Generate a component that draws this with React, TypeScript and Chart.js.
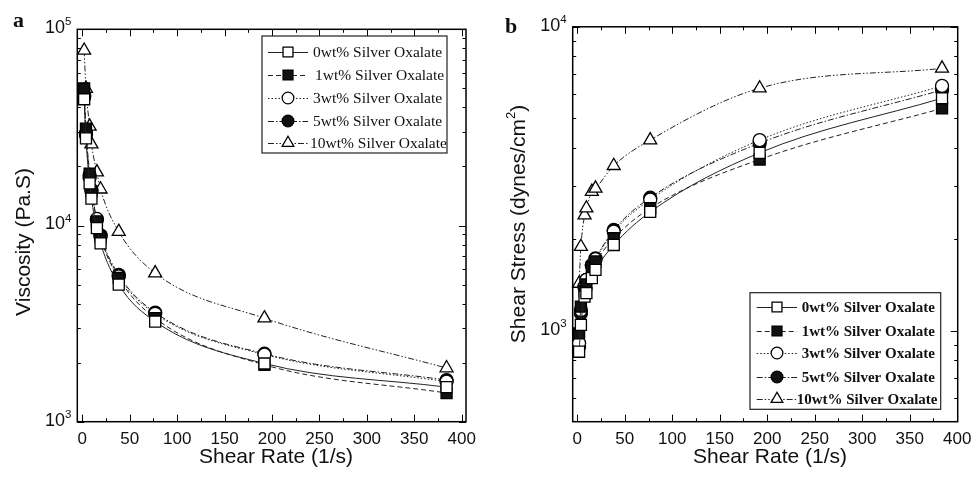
import React, { useEffect, useRef } from "react";
import { Chart, registerables } from "chart.js";

Chart.register(...registerables);

// ---------- data ----------
const shearRate = [1.92, 3.84, 7.68, 9.6, 15.36, 19.2, 38.4, 76.8, 192, 384];
const seriesLabels = [
  "0wt% Silver Oxalate",
  "1wt% Silver Oxalate",
  "3wt% Silver Oxalate",
  "5wt% Silver Oxalate",
  "10wt% Silver Oxalate",
];

// Panel a: viscosity (Pa.S)
const viscosity0 = [44000, 27800, 16400, 13700, 9700, 8100, 5000, 3240, 1980, 1500];
const viscosity1 = [50000, 31200, 18400, 14900, 10500, 8700, 5400, 3370, 1950, 1400];
const viscosity3 = [46000, 29500, 17500, 15000, 10800, 8800, 5500, 3550, 2200, 1600];
const viscosity5 = [45000, 28900, 18100, 15200, 10700, 8900, 5600, 3600, 2220, 1630];
const viscosity10 = [78000, 49900, 32000, 26000, 18700, 15300, 9300, 5720, 3370, 1877];

// Panel b: shear stress (dynes/cm^2)
const stress0 = [853, 1045, 1295, 1330, 1490, 1585, 1915, 2460, 3850, 5820];
const stress1 = [980, 1200, 1350, 1420, 1620, 1690, 2015, 2530, 3660, 5390];
const stress3 = [910, 1170, 1390, 1470, 1640, 1720, 2120, 2700, 4240, 6390];
const stress5 = [886, 1140, 1397, 1470, 1645, 1730, 2145, 2740, 4140, 6200];
const stress10 = [1430, 1890, 2400, 2530, 2870, 2940, 3490, 4240, 6280, 7300];

const xMajorTicks = [0, 50, 100, 150, 200, 250, 300, 350, 400];
const xMinorTicks = [25, 75, 125, 175, 225, 275, 325, 375];
const viscosityDecades = [1000, 10000, 100000];
const stressDecades = [1000, 10000];

// ---------- styles ----------
const seriesStyles = [
  { pointStyle: "rect", fill: "#ffffff", dash: [] as number[], radius: 7.8 },
  { pointStyle: "rect", fill: "#111111", dash: [5, 3], radius: 7.8 },
  { pointStyle: "circle", fill: "#ffffff", dash: [1.5, 2], radius: 6.5 },
  { pointStyle: "circle", fill: "#111111", dash: [6, 2, 1.5, 2], radius: 6.5 },
  { pointStyle: "triangle", fill: "#ffffff", dash: [6, 2, 1.5, 2, 1.5, 2], radius: 7.5 },
];

const SANS = '"Liberation Sans", Arial, Helvetica, sans-serif';
const SERIF = '"Liberation Serif", "Times New Roman", serif';

function drawMarker(ctx: CanvasRenderingContext2D, style: string, x: number, y: number, r: number, fill: string) {
  ctx.save();
  ctx.setLineDash([]);
  ctx.fillStyle = fill;
  ctx.strokeStyle = "#000";
  ctx.lineWidth = 1.3;
  ctx.beginPath();
  if (style === "rect") {
    const s = r * Math.SQRT1_2;
    ctx.rect(x - s, y - s, 2 * s, 2 * s);
  } else if (style === "circle") {
    ctx.arc(x, y, r, 0, Math.PI * 2);
  } else {
    let rad = 0;
    const T = (2 * Math.PI) / 3;
    ctx.moveTo(x + Math.sin(rad) * r, y - Math.cos(rad) * r);
    rad += T;
    ctx.lineTo(x + Math.sin(rad) * r, y - Math.cos(rad) * r);
    rad += T;
    ctx.lineTo(x + Math.sin(rad) * r, y - Math.cos(rad) * r);
    ctx.closePath();
  }
  ctx.fill();
  ctx.stroke();
  ctx.restore();
}

type Panel = {
  offsetX: number;
  width: number;
  series: number[][];
  xMin: number;
  xMax: number;
  yMin: number;
  yMax: number;
  decades: number[];
  padding: { left: number; right: number; top: number; bottom: number };
  letter: string;
  letterPos: [number, number];
  yTitle: string;
  yTitleSup: string;
  yTitleTail: string;
  yTitlePos: [number, number];
  xTitlePos: [number, number];
  legend: {
    box: [number, number, number, number];
    rows: number[];
    lineX: [number, number];
    markerX: number;
    textX: number;
    textOffsets: number[];
    font: string;
  };
};

function makeDecor(p: Panel) {
  return {
    id: "decor",
    beforeDatasetsDraw(chart: any) {
      const ctx: CanvasRenderingContext2D = chart.ctx;
      const a = chart.chartArea;
      const xs = chart.scales.x;
      const ys = chart.scales.y;
      ctx.save();
      // frame
      ctx.strokeStyle = "#000";
      ctx.lineWidth = 1.5;
      ctx.strokeRect(a.left, a.top, a.right - a.left, a.bottom - a.top);
      // x ticks
      ctx.lineWidth = 1;
      ctx.beginPath();
      const xt = (v: number, len: number) => {
        const px = Math.round(xs.getPixelForValue(v)) + 0.5;
        ctx.moveTo(px, a.bottom);
        ctx.lineTo(px, a.bottom - len);
        ctx.moveTo(px, a.top);
        ctx.lineTo(px, a.top + len);
      };
      xMajorTicks.forEach((v) => xt(v, 7));
      xMinorTicks.forEach((v) => xt(v, 3.5));
      // y ticks
      const yt = (v: number, len: number) => {
        const py = Math.round(ys.getPixelForValue(v)) + 0.5;
        ctx.moveTo(a.left, py);
        ctx.lineTo(a.left + len, py);
        ctx.moveTo(a.right, py);
        ctx.lineTo(a.right - len, py);
      };
      for (let d = 100; d <= 100000; d *= 10) {
        for (let k = 1; k <= 9; k++) {
          const v = k * d;
          if (v < p.yMin * 0.999 || v > p.yMax * 1.001) continue;
          yt(v, k === 1 ? 7 : 3.5);
        }
      }
      ctx.stroke();

      // x tick labels
      ctx.fillStyle = "#111";
      ctx.font = `17px ${SANS}`;
      ctx.textAlign = "center";
      ctx.textBaseline = "middle";
      xMajorTicks.forEach((v) => {
        ctx.fillText(String(v), xs.getPixelForValue(v), 439);
      });
      // y tick labels 10^n
      p.decades.forEach((v) => {
        const py = ys.getPixelForValue(v);
        const exp = String(Math.round(Math.log10(v)));
        ctx.font = `11.5px ${SANS}`;
        const ew = ctx.measureText(exp).width;
        const right = a.left - 6;
        ctx.textAlign = "left";
        ctx.fillText(exp, right - ew, py - 7);
        ctx.font = `18px ${SANS}`;
        ctx.textAlign = "right";
        ctx.fillText("10", right - ew, py - 1);
      });

      // x title
      ctx.font = `21px ${SANS}`;
      ctx.textAlign = "center";
      ctx.fillText("Shear Rate (1/s)", p.xTitlePos[0] - p.offsetX, p.xTitlePos[1]);

      // y title (rotated)
      ctx.save();
      ctx.translate(p.yTitlePos[0] - p.offsetX, p.yTitlePos[1]);
      ctx.rotate(-Math.PI / 2);
      ctx.font = `21px ${SANS}`;
      const w1 = ctx.measureText(p.yTitle).width;
      const w3 = ctx.measureText(p.yTitleTail).width;
      ctx.font = `13px ${SANS}`;
      const w2 = p.yTitleSup ? ctx.measureText(p.yTitleSup).width : 0;
      let x0 = -(w1 + w2 + w3) / 2;
      ctx.textAlign = "left";
      ctx.font = `21px ${SANS}`;
      ctx.fillText(p.yTitle, x0, 0);
      x0 += w1;
      if (p.yTitleSup) {
        ctx.font = `13px ${SANS}`;
        ctx.fillText(p.yTitleSup, x0, -8);
        x0 += w2;
      }
      ctx.font = `21px ${SANS}`;
      ctx.fillText(p.yTitleTail, x0, 0);
      ctx.restore();

      // panel letter
      ctx.font = `bold 22px ${SERIF}`;
      ctx.textAlign = "left";
      ctx.textBaseline = "alphabetic";
      ctx.fillText(p.letter, p.letterPos[0] - p.offsetX, p.letterPos[1]);
      ctx.restore();
    },
    afterDatasetsDraw(chart: any) {
      const ctx: CanvasRenderingContext2D = chart.ctx;
      const L = p.legend;
      const ox = p.offsetX;
      ctx.save();
      ctx.fillStyle = "#fff";
      ctx.fillRect(L.box[0] - ox, L.box[1], L.box[2] - L.box[0], L.box[3] - L.box[1]);
      ctx.strokeStyle = "#222";
      ctx.lineWidth = 1.2;
      ctx.strokeRect(L.box[0] - ox, L.box[1], L.box[2] - L.box[0], L.box[3] - L.box[1]);
      L.rows.forEach((y, i) => {
        const st = seriesStyles[i];
        ctx.strokeStyle = "#222";
        ctx.lineWidth = 1;
        ctx.setLineDash(st.dash);
        ctx.beginPath();
        ctx.moveTo(L.lineX[0] - ox, y + 0.5);
        ctx.lineTo(L.lineX[1] - ox, y + 0.5);
        ctx.stroke();
        ctx.setLineDash([]);
        drawMarker(ctx, st.pointStyle, L.markerX - ox, y, st.radius * 0.9, st.fill);
        ctx.fillStyle = "#111";
        ctx.font = L.font;
        ctx.textAlign = "left";
        ctx.textBaseline = "middle";
        ctx.fillText(seriesLabels[i], L.textX + L.textOffsets[i] - ox, y + 1);
      });
      ctx.restore();
    },
  };
}

const panelA: Panel = {
  offsetX: 0,
  width: 486,
  series: [viscosity0, viscosity1, viscosity3, viscosity5, viscosity10],
  xMin: -5.3,
  xMax: 404.5,
  yMin: 1000,
  yMax: 100000,
  decades: viscosityDecades,
  padding: { left: 77.3, right: 20, top: 29.3, bottom: 57.3 },
  letter: "a",
  letterPos: [13, 26.5],
  yTitle: "Viscosity (Pa.S)",
  yTitleSup: "",
  yTitleTail: "",
  yTitlePos: [24, 242],
  xTitlePos: [276, 457],
  legend: {
    box: [262, 36, 447, 153],
    rows: [52, 75, 98, 121, 143],
    lineX: [268, 308],
    markerX: 288,
    textX: 313,
    textOffsets: [0, 2, 0, 0, -3],
    font: `15.5px ${SERIF}`,
  },
};

const panelB: Panel = {
  offsetX: 486,
  width: 487,
  series: [stress0, stress1, stress3, stress5, stress10],
  xMin: -4.8,
  xMax: 400.5,
  yMin: 502,
  yMax: 10000,
  decades: stressDecades,
  padding: { left: 86.7, right: 15.3, top: 26.8, bottom: 57.3 },
  letter: "b",
  letterPos: [505, 32.5],
  yTitle: "Shear Stress (dynes/cm",
  yTitleSup: "2",
  yTitleTail: ")",
  yTitlePos: [519, 224],
  xTitlePos: [770, 457],
  legend: {
    box: [750, 292.7, 940.7, 409.3],
    rows: [307, 331, 353, 377, 399],
    lineX: [756.7, 797],
    markerX: 777,
    textX: 801.7,
    textOffsets: [0, 0, 0, 0, -5],
    font: `bold 15px ${SERIF}`,
  },
};

function buildChart(canvas: HTMLCanvasElement, p: Panel) {
  return new Chart(canvas, {
    type: "line",
    data: {
      datasets: p.series.map((vals, i) => ({
        label: seriesLabels[i],
        data: shearRate.map((x, j) => ({ x, y: vals[j] })),
        borderColor: "#222",
        borderWidth: 1,
        borderDash: seriesStyles[i].dash,
        pointStyle: seriesStyles[i].pointStyle as any,
        pointRadius: seriesStyles[i].radius,
        pointBackgroundColor: seriesStyles[i].fill,
        pointBorderColor: "#000",
        pointBorderWidth: 1.3,
        cubicInterpolationMode: "monotone" as const,
        fill: false,
        clip: false as any,
      })),
    },
    options: {
      responsive: false,
      maintainAspectRatio: false,
      animation: false,
      devicePixelRatio: 1,
      events: [],
      layout: { padding: p.padding },
      plugins: { legend: { display: false }, tooltip: { enabled: false } },
      scales: {
        x: { type: "linear", min: p.xMin, max: p.xMax, display: false },
        y: { type: "logarithmic", min: p.yMin, max: p.yMax, display: false },
      },
    },
    plugins: [makeDecor(p)],
  } as any);
}

function PanelCanvas({ panel }: { panel: Panel }) {
  const ref = useRef<HTMLCanvasElement | null>(null);
  useEffect(() => {
    if (!ref.current) return;
    const chart = buildChart(ref.current, panel);
    return () => chart.destroy();
  }, [panel]);
  return (
    <canvas
      ref={ref}
      width={panel.width}
      height={479}
      style={{ position: "absolute", left: panel.offsetX, top: 0, width: panel.width, height: 479 }}
    />
  );
}

export default function App() {
  return (
    <div style={{ position: "fixed", left: 0, top: 0, width: 973, height: 479, background: "#fff" }}>
      <PanelCanvas panel={panelA} />
      <PanelCanvas panel={panelB} />
    </div>
  );
}
